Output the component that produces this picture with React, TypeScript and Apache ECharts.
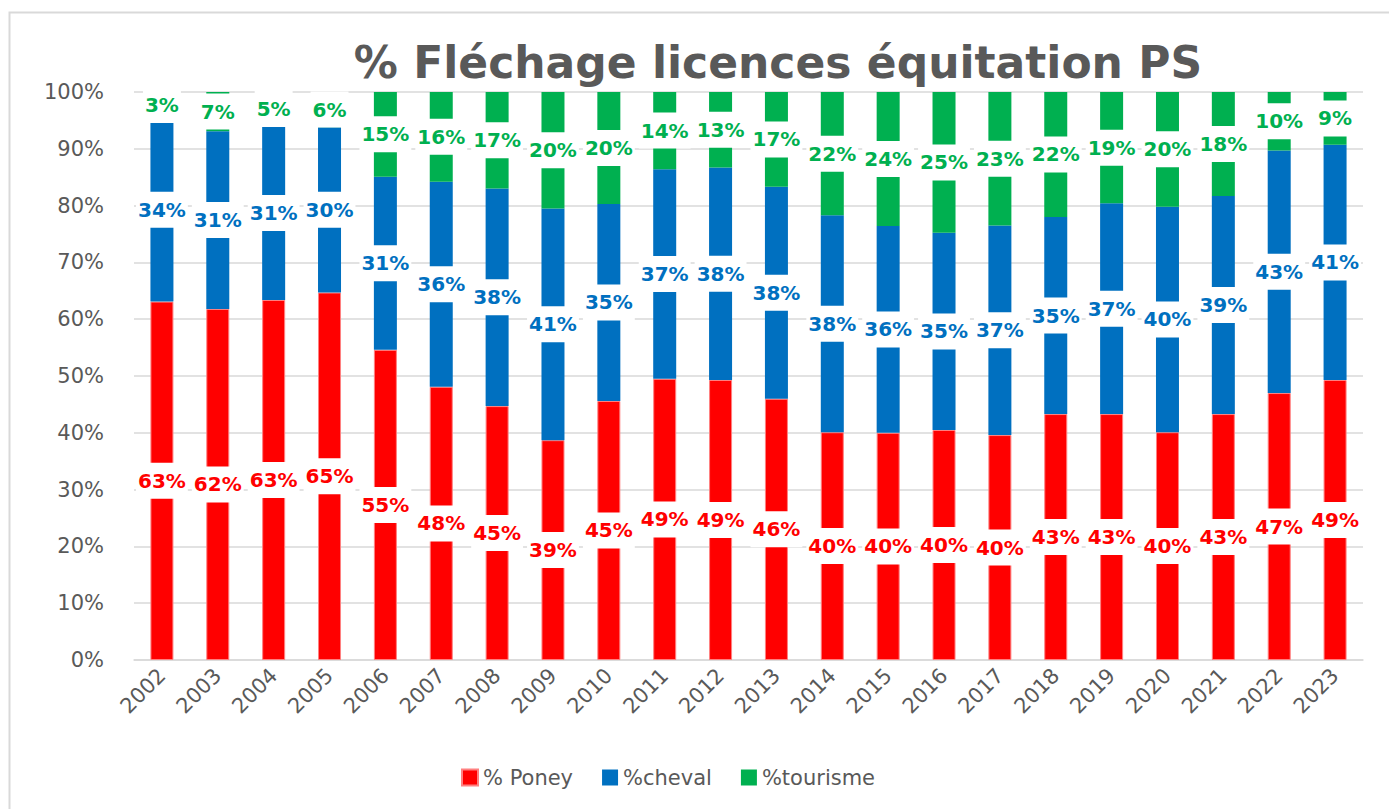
import React, { useEffect, useRef } from "react";
import * as echarts from "echarts";

const years = ["2002","2003","2004","2005","2006","2007","2008","2009","2010","2011","2012","2013","2014","2015","2016","2017","2018","2019","2020","2021","2022","2023"];

// segment heights (percent of bar)
const poney = [63.1, 61.8, 63.4, 64.7, 54.6, 48.1, 44.7, 38.7, 45.6, 49.5, 49.3, 46.0, 40.1, 40.0, 40.5, 39.6, 43.3, 43.3, 40.1, 43.3, 47.0, 49.3];
const cheval = [32.3, 31.3, 30.6, 29.1, 30.5, 36.1, 38.3, 40.8, 34.7, 36.9, 37.4, 37.3, 38.2, 36.4, 34.7, 36.9, 34.7, 37.1, 39.7, 38.4, 42.7, 41.4];
const tourisme = [4.6, 6.9, 6.0, 6.2, 14.9, 15.8, 17.0, 20.5, 19.7, 13.6, 13.3, 16.7, 21.7, 23.6, 24.8, 23.5, 22.0, 19.6, 20.2, 18.3, 10.3, 9.3];

// data labels as printed on the chart
const poneyLabels = [63, 62, 63, 65, 55, 48, 45, 39, 45, 49, 49, 46, 40, 40, 40, 40, 43, 43, 40, 43, 47, 49];
const chevalLabels = [34, 31, 31, 30, 31, 36, 38, 41, 35, 37, 38, 38, 38, 36, 35, 37, 35, 37, 40, 39, 43, 41];
const tourismeLabels = [3, 7, 5, 6, 15, 16, 17, 20, 20, 14, 13, 17, 22, 24, 25, 23, 22, 19, 20, 18, 10, 9];

const yTicks = [0, 10, 20, 30, 40, 50, 60, 70, 80, 90, 100];

const RED = "#FF0000";
const BLUE = "#0070C0";
const GREEN = "#00B050";
const GRAY = "#595959";
const FONT = "DejaVu Sans";

function labelCfg(color: string, texts: number[]) {
  return {
    show: true,
    position: "inside" as const,
    formatter: (p: any) => texts[p.dataIndex] + "%",
    color,
    fontFamily: FONT,
    fontWeight: "bold" as const,
    fontSize: 20,
    backgroundColor: "#ffffff",
    padding: [8, 2, 8, 2],
  };
}

export default function App() {
  const ref = useRef<HTMLDivElement>(null);
  useEffect(() => {
    document.body.style.margin = "0";
    const chart = echarts.init(ref.current!, null, { renderer: "svg" });
    chart.setOption({
      animation: false,
      backgroundColor: "#ffffff",
      title: {
        text: "% Fléchage licences équitation PS",
        left: 773,
        textAlign: "center",
        top: 35,
        textStyle: { fontFamily: FONT, fontWeight: "bold", fontSize: 44, color: GRAY },
      },
      graphic: [
        {
          type: "rect",
          shape: { x: 9.5, y: 12.5, width: 1400, height: 820 },
          style: { fill: "none", stroke: "#D9D9D9", lineWidth: 2 },
          silent: true,
          z: -1,
        },
      ],
      legend: {
        top: 762,
        left: 456,
        itemWidth: 16,
        itemHeight: 16,
        itemGap: 29,
        icon: "rect",
        textStyle: { fontFamily: FONT, fontSize: 21, color: GRAY },
        data: ["% Poney", "%cheval", "%tourisme"],
      },
      grid: { left: 134, right: 26, top: 92, bottom: 149, containLabel: false },
      xAxis: {
        type: "category",
        data: years,
        axisTick: { show: false },
        axisLine: { lineStyle: { color: "#D9D9D9", width: 1.5 } },
        axisLabel: { rotate: 45, fontFamily: FONT, fontSize: 21, color: GRAY, margin: 12 },
      },
      yAxis: {
        type: "value",
        min: 0,
        max: 100,
        interval: 10,
        axisLabel: {
          formatter: (v: number) => (yTicks.includes(v) ? v + "%" : ""),
          fontFamily: FONT,
          fontSize: 21,
          color: GRAY,
          margin: 30,
        },
        axisLine: { show: false },
        axisTick: { show: false },
        splitLine: { lineStyle: { color: "#D9D9D9", width: 1.5 } },
      },
      series: [
        {
          name: "% Poney",
          type: "bar",
          stack: "total",
          barWidth: 23,
          data: poney,
          itemStyle: { color: RED, borderColor: "#FF8080", borderWidth: 1 },
          label: labelCfg(RED, poneyLabels),
        },
        {
          name: "%cheval",
          type: "bar",
          stack: "total",
          barWidth: 23,
          data: cheval,
          itemStyle: { color: BLUE },
          label: labelCfg(BLUE, chevalLabels),
        },
        {
          name: "%tourisme",
          type: "bar",
          stack: "total",
          barWidth: 23,
          data: tourisme,
          itemStyle: { color: GREEN },
          label: labelCfg(GREEN, tourismeLabels),
        },
      ],
    });
    return () => chart.dispose();
  }, []);
  return <div ref={ref} style={{ width: 1389, height: 809 }} />;
}
